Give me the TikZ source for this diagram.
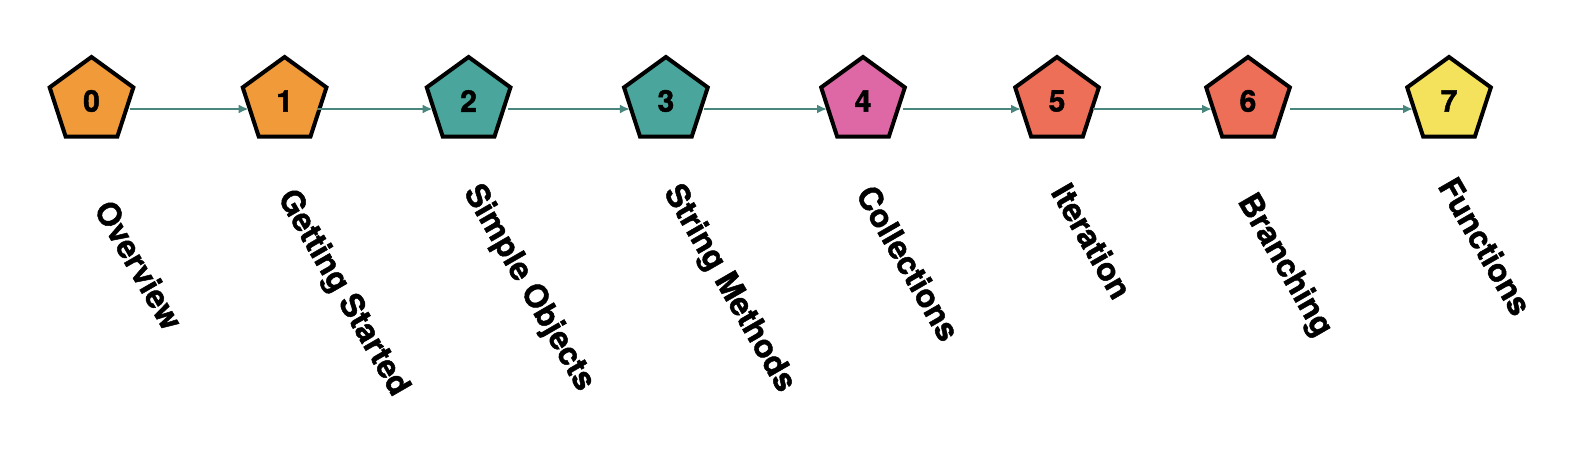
\documentclass[tikz,border=0pt]{standalone}
\usepackage{fontspec}
\setmainfont{TeX Gyre Heros}[BoldFeatures={FakeBold=1.5}]
\usetikzlibrary{shapes.geometric,arrows.meta}
\definecolor{corange}{RGB}{241,154,58}
\definecolor{cteal}{RGB}{74,166,156}
\definecolor{cpink}{RGB}{222,104,166}
\definecolor{ccoral}{RGB}{237,111,88}
\definecolor{cyellow}{RGB}{245,226,92}
\definecolor{carrow}{RGB}{72,134,126}
\tikzset{
  pent/.style={regular polygon, regular polygon sides=5, minimum size=88pt,
    draw=black, line width=4pt, inner sep=0pt, font=\fontsize{30}{30}\selectfont\bfseries},
  lbl/.style={rotate=-60, anchor=mid west, inner sep=0pt, font=\fontsize{32}{32}\selectfont\bfseries},
  arr/.style={draw=carrow, line width=2pt, -{Latex[length=10pt,width=9pt]}}
}
\begin{document}
\begin{tikzpicture}[x=1pt,y=-1pt]
\useasboundingbox (0,0) rectangle (1594,476);
\node[pent, fill=corange] (p0) at (91.5,101) {\raisebox{-3pt}{0}};
\node[pent, fill=corange] (p1) at (284.6,101) {\raisebox{-3pt}{1}};
\node[pent, fill=cteal] (p2) at (468.6,101) {\raisebox{-3pt}{2}};
\node[pent, fill=cteal] (p3) at (665.9,101) {\raisebox{-3pt}{3}};
\node[pent, fill=cpink] (p4) at (863,101) {\raisebox{-3pt}{4}};
\node[pent, fill=ccoral] (p5) at (1057,101) {\raisebox{-3pt}{5}};
\node[pent, fill=ccoral] (p6) at (1248,101) {\raisebox{-3pt}{6}};
\node[pent, fill=cyellow] (p7) at (1449,101) {\raisebox{-3pt}{7}};

\node[lbl] (l0) at (95.4,207.8) {Overview};
\node[lbl] (l1) at (279.4,195.8) {Getting Started};
\node[lbl] (l2) at (465.4,190.8) {Simple Objects};
\node[lbl] (l3) at (665.4,190.8) {String Methods};
\node[lbl] (l4) at (857.4,192.8) {Collections};
\node[lbl] (l5) at (1052.4,190.8) {Iteration};
\node[lbl] (l6) at (1239.4,199.8) {Branching};
\node[lbl] (l7) at (1439.4,184.8) {Functions};

\draw[arr] ([xshift=38pt,yshift=-8pt]p0.center) -- ([xshift=-36pt,yshift=-8pt]p1.center);
\draw[arr] ([xshift=32pt,yshift=-8pt]p1.center) -- ([xshift=-36pt,yshift=-8pt]p2.center);
\draw[arr] ([xshift=39pt,yshift=-8pt]p2.center) -- ([xshift=-36pt,yshift=-8pt]p3.center);
\draw[arr] ([xshift=38pt,yshift=-8pt]p3.center) -- ([xshift=-36pt,yshift=-8pt]p4.center);
\draw[arr] ([xshift=40pt,yshift=-8pt]p4.center) -- ([xshift=-36pt,yshift=-8pt]p5.center);
\draw[arr] ([xshift=36pt,yshift=-8pt]p5.center) -- ([xshift=-36pt,yshift=-8pt]p6.center);
\draw[arr] ([xshift=42pt,yshift=-8pt]p6.center) -- ([xshift=-36pt,yshift=-8pt]p7.center);
\end{tikzpicture}
\end{document}
